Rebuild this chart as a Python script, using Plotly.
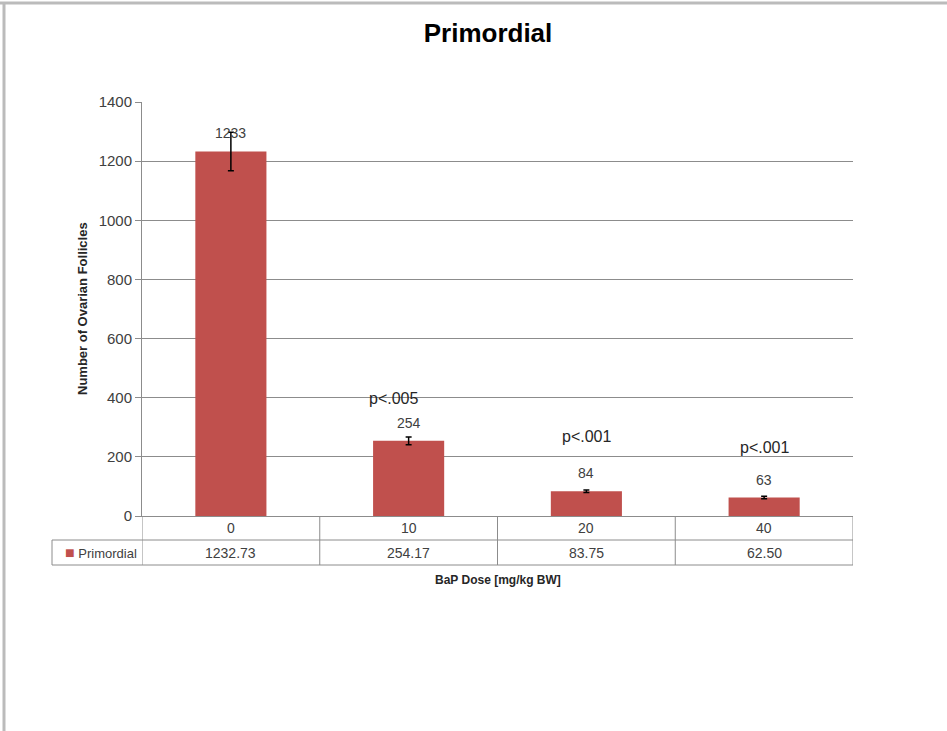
import plotly.graph_objects as go
from decimal import Decimal, ROUND_HALF_UP

# ---- data ----
categories = ["0", "10", "20", "40"]
values = [1232.73, 254.17, 83.75, 62.50]
errors = [65, 13, 4, 4]
p_labels = ["", "p<.005", "p<.001", "p<.001"]
p_heights = [0, 399, 270, 233]
series_name = "Primordial"
title_text = "Primordial"
y_title = "Number of Ovarian Follicles"
x_title = "BaP Dose [mg/kg BW]"
y_ticks = [0, 200, 400, 600, 800, 1000, 1200, 1400]

BAR = "#C0504D"
GRID = "#8C8C8C"
FONT = "Liberation Sans, Arial, sans-serif"

def rnd(v):
    return str(Decimal(str(v)).quantize(Decimal("1"), rounding=ROUND_HALF_UP))

idx = list(range(len(categories)))

fig = go.Figure()
fig.add_trace(go.Bar(
    x=idx, y=values, name=series_name,
    marker=dict(color=BAR, line=dict(width=0)),
    width=0.4,
    error_y=dict(type="data", array=errors, color="black", thickness=1.5, width=3),
    showlegend=False, hoverinfo="skip",
))

ann = []
# data labels above bars
for i, v in zip(idx, values):
    ann.append(dict(x=i, y=v, xref="x", yref="y", text=rnd(v), showarrow=False,
                    yanchor="bottom", yshift=8, font=dict(size=14, color="#404040")))
# p-value labels
for i, p, h in zip(idx, p_labels, p_heights):
    if p:
        ann.append(dict(x=i, y=h, xref="x", yref="y", text=p, showarrow=False,
                        xshift=-15 if i == 1 else 0,
                        font=dict(size=16, color="#262626")))
# data table: category row and value row
for i, c, v in zip(idx, categories, values):
    ann.append(dict(x=i, y=0, xref="x", yref="paper", text=c, showarrow=False,
                    yanchor="middle", yshift=-12, font=dict(size=14, color="#404040")))
    ann.append(dict(x=i, y=0, xref="x", yref="paper", text=f"{v:.2f}", showarrow=False,
                    yanchor="middle", yshift=-36.5, font=dict(size=14, color="#404040")))
# legend key cell
ann.append(dict(x=0, y=0, xref="paper", yref="paper", xanchor="right", yanchor="middle",
                xshift=-3, yshift=-36.5,
                text=f'<span style="color:{BAR};font-size:16px">■</span> {series_name}', showarrow=False,
                font=dict(size=13, color="#404040")))
# axis titles
ann.append(dict(x=0.5, y=0, xref="paper", yref="paper", yanchor="middle", yshift=-64,
                text=f"<b>{x_title}</b>", showarrow=False, font=dict(size=12, color="#262626")))
ann.append(dict(x=0, y=0.5, xref="paper", yref="paper", xanchor="center", xshift=-60,
                textangle=-90, text=f"<b>{y_title}</b>", showarrow=False,
                font=dict(size=13, color="#262626")))

# table lines (category boundaries through the x axis)
shapes = []
bounds = [i - 0.5 for i in range(len(categories) + 1)]
r1, r2 = -24 / 414, -49 / 414
key_left = -90 / 711
for b in bounds:
    shapes.append(dict(type="line", xref="x", yref="paper", x0=b, x1=b, y0=0, y1=r2,
                       line=dict(color=GRID, width=1)))
shapes.append(dict(type="line", xref="paper", yref="paper", x0=key_left, x1=1, y0=r1, y1=r1,
                   line=dict(color=GRID, width=1)))
shapes.append(dict(type="line", xref="paper", yref="paper", x0=key_left, x1=1, y0=r2, y1=r2,
                   line=dict(color=GRID, width=1)))
shapes.append(dict(type="line", xref="paper", yref="paper", x0=key_left, x1=key_left, y0=r1, y1=r2,
                   line=dict(color=GRID, width=1)))
# outer frame (top and left edges)
shapes.append(dict(type="line", xref="paper", yref="paper", x0=-142 / 711, x1=805 / 711,
                   y0=(516 - 3) / 414, y1=(516 - 3) / 414, line=dict(color="#BBBBBB", width=3)))
shapes.append(dict(type="line", xref="paper", yref="paper", x0=-138 / 711, x1=-138 / 711,
                   y0=(516 - 3) / 414, y1=-215 / 414, line=dict(color="#BBBBBB", width=3)))

fig.update_layout(
    width=947, height=731,
    margin=dict(l=142, r=94, t=102, b=215),
    paper_bgcolor="white", plot_bgcolor="white",
    font=dict(family=FONT, color="#404040"),
    title=dict(text=f"<b>{title_text}</b>", x=488 / 947, xref="container", xanchor="center",
               y=1 - 33 / 731, yref="container", yanchor="middle",
               font=dict(size=26, color="black")),
    xaxis=dict(showticklabels=False, ticks="", showgrid=False,
               showline=True, linecolor=GRID, linewidth=1, zeroline=False,
               range=[-0.5, len(categories) - 0.5]),
    yaxis=dict(range=[0, 1400], tickvals=y_ticks, showgrid=True, gridcolor=GRID, gridwidth=1,
               showline=True, linecolor=GRID, linewidth=1, ticks="outside", ticklen=6,
               tickcolor=GRID, zeroline=False, tickfont=dict(size=15, color="#404040")),
    annotations=ann, shapes=shapes,
)

fig.write_html("out.html", config={"displayModeBar": False},
               post_script="document.body.style.margin='0';")
